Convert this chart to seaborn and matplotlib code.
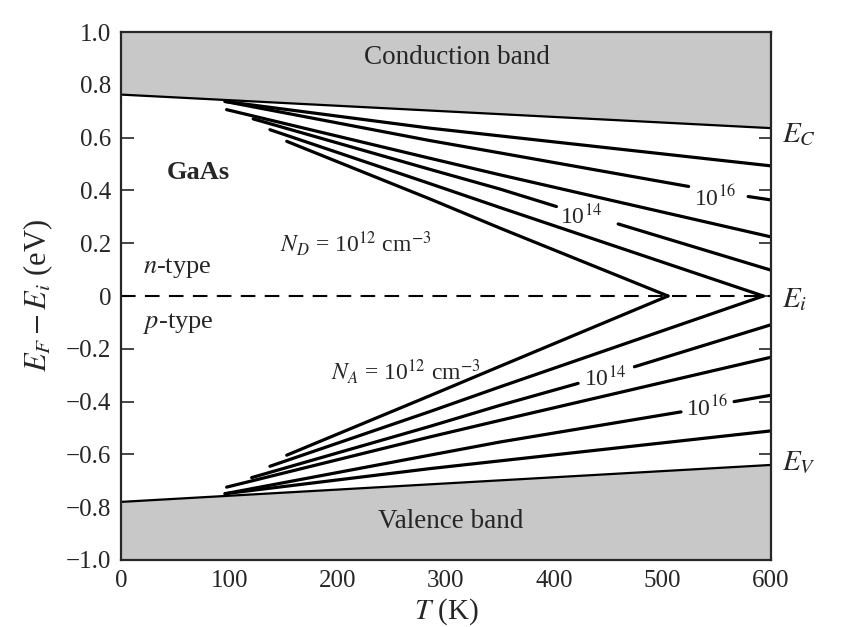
import numpy as np
import pandas as pd
import matplotlib
matplotlib.use('Agg')
import matplotlib.pyplot as plt
import seaborn as sns

sns.set_style('ticks')
plt.rcParams['font.family'] = ['Liberation Serif', 'DejaVu Serif']
plt.rcParams['mathtext.fontset'] = 'stix'

# band edges (eV, relative to Ei)
ec_T = [0, 600]
ec_E = [0.763, 0.636]
ev_T = [0, 600]
ev_E = [-0.780, -0.640]

# n-type, donor doping 1e12 .. 1e17 cm^-3
nd12_T = [153, 285, 350, 505]
nd12_E = [0.586, 0.368, 0.257, 0.0]
nd13_T = [137.5, 285, 350, 593]
nd13_E = [0.630, 0.426, 0.335, 0.0]
nd14a_T = [122, 285, 350, 402]
nd14a_E = [0.671, 0.480, 0.405, 0.339]
nd14b_T = [459, 600]
nd14b_E = [0.273, 0.098]
nd15_T = [97.5, 285, 350, 600]
nd15_E = [0.706, 0.522, 0.459, 0.224]
nd16a_T = [96, 285, 350, 524]
nd16a_E = [0.737, 0.589, 0.542, 0.415]
nd16b_T = [579, 600]
nd16b_E = [0.377, 0.364]
nd17_T = [96, 285, 600]
nd17_E = [0.737, 0.636, 0.493]

# p-type, acceptor doping 1e12 .. 1e17 cm^-3
na12_T = [153, 285, 350, 505]
na12_E = [-0.603, -0.378, -0.266, 0.0]
na13_T = [137.5, 285, 350, 593]
na13_E = [-0.645, -0.438, -0.344, 0.0]
na14a_T = [120.6, 285, 350, 422]
na14a_E = [-0.688, -0.494, -0.414, -0.331]
na14b_T = [474, 600]
na14b_E = [-0.268, -0.109]
na15_T = [97.5, 285, 350, 600]
na15_E = [-0.724, -0.534, -0.471, -0.232]
na16a_T = [96, 285, 350, 517]
na16a_E = [-0.749, -0.603, -0.553, -0.439]
na16b_T = [566, 600]
na16b_E = [-0.400, -0.376]
na17_T = [96, 285, 600]
na17_E = [-0.749, -0.654, -0.511]

xticks = [0, 100, 200, 300, 400, 500, 600]
yticks = [-1.0, -0.8, -0.6, -0.4, -0.2, 0, 0.2, 0.4, 0.6, 0.8, 1.0]
ytick_labels = ['\u22121.0', '\u22120.8', '\u22120.6', '\u22120.4', '\u22120.2', '0',
                '0.2', '0.4', '0.6', '0.8', '1.0']

#long form table, one unit per drawn segment
segs = [(nd12_T, nd12_E), (nd13_T, nd13_E), (nd14a_T, nd14a_E), (nd14b_T, nd14b_E),
        (nd15_T, nd15_E), (nd16a_T, nd16a_E), (nd16b_T, nd16b_E), (nd17_T, nd17_E),
        (na12_T, na12_E), (na13_T, na13_E), (na14a_T, na14a_E), (na14b_T, na14b_E),
        (na15_T, na15_E), (na16a_T, na16a_E), (na16b_T, na16b_E), (na17_T, na17_E)]
df = pd.concat([pd.DataFrame({'T': t, 'E': e, 'seg': i}) for i, (t, e) in enumerate(segs)],
               ignore_index=True)
bands = pd.concat([pd.DataFrame({'T': ec_T, 'E': ec_E, 'seg': 0}),
                   pd.DataFrame({'T': ev_T, 'E': ev_E, 'seg': 1})], ignore_index=True)

fig = plt.figure(figsize=(8.44, 6.27), dpi=100)
ax = fig.add_axes([0.1434, 0.1069, 0.770, 0.842])

gray = '#c8c8c8'
ax.fill_between(ec_T, ec_E, 1.0, color=gray, lw=0)
ax.fill_between(ev_T, -1.0, ev_E, color=gray, lw=0)

sns.lineplot(data=bands, x='T', y='E', units='seg', estimator=None, sort=False,
             color='black', lw=1.6, ax=ax, legend=False)
sns.lineplot(data=df, x='T', y='E', units='seg', estimator=None, sort=False,
             color='black', lw=2.3, ax=ax, legend=False)
ax.axhline(0, color='black', lw=1.5, dashes=(7, 4.5))

ax.set_xlim(0, 600)
ax.set_ylim(-1.0, 1.0)
ax.set_xticks(xticks)
ax.set_xticklabels([str(v) for v in xticks])
ax.set_yticks(yticks)
ax.set_yticklabels(ytick_labels)
ax.tick_params(direction='in', top=True, right=True, width=1.2, labelsize=18, pad=7)
ax.tick_params(axis='x', length=12)
ax.tick_params(axis='y', length=9)
for sp in ax.spines.values():
    sp.set_linewidth(1.6)

ax.set_xlabel(r'$T$ (K)', fontsize=21)
ax.set_ylabel(r'$E_F - E_i$ (eV)', fontsize=22)
ax.xaxis.set_label_coords(0.5, -0.068)
ax.yaxis.set_label_coords(-0.102, 0.5)

ax.text(310, 0.903, 'Conduction band', ha='center', va='center', fontsize=19.5)
ax.text(304, -0.854, 'Valence band', ha='center', va='center', fontsize=19.5)
ax.text(71, 0.469, 'GaAs', ha='center', va='center', fontsize=19, fontweight='bold')
ax.text(52, 0.105, r'$n$-type', ha='center', va='center', fontsize=19)
ax.text(53, -0.104, r'$p$-type', ha='center', va='center', fontsize=19)
ax.text(217, 0.197, r'$N_D$ = 10$^{12}$ cm$^{-3}$', ha='center', va='center', fontsize=17)
ax.text(263, -0.287, r'$N_A$ = 10$^{12}$ cm$^{-3}$', ha='center', va='center', fontsize=17)
ax.text(548, 0.371, r'10$^{16}$', ha='center', va='center', fontsize=17)
ax.text(425, 0.301, r'10$^{14}$', ha='center', va='center', fontsize=17)
ax.text(447, -0.312, r'10$^{14}$', ha='center', va='center', fontsize=17)
ax.text(541, -0.426, r'10$^{16}$', ha='center', va='center', fontsize=17)

ax.text(610, 0.611, r'$E_C$', ha='left', va='center', fontsize=21, clip_on=False)
ax.text(610, -0.015, r'$E_i$', ha='left', va='center', fontsize=21, clip_on=False)
ax.text(610, -0.629, r'$E_V$', ha='left', va='center', fontsize=21, clip_on=False)

fig.savefig('out.png', dpi=100)
